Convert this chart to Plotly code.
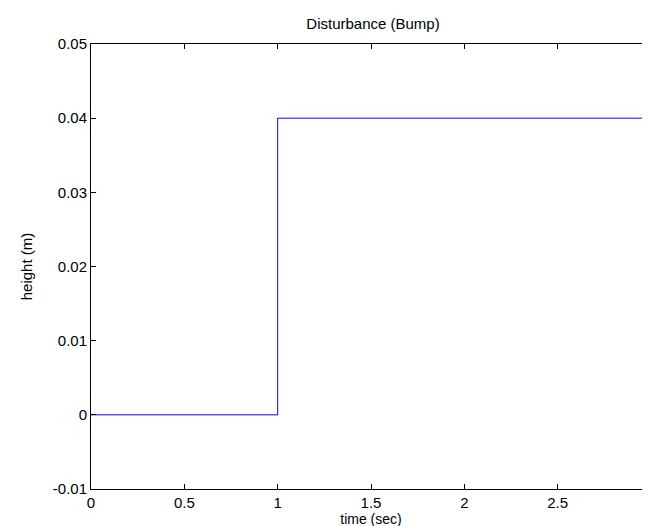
import plotly.graph_objects as go

time_sec = [0, 1, 3]
height_m = [0.0, 0.04, 0.04]
x_ticks = [0, 0.5, 1, 1.5, 2, 2.5, 3]
x_tick_labels = ["0", "0.5", "1", "1.5", "2", "2.5", "3"]
y_ticks = [-0.01, 0, 0.01, 0.02, 0.03, 0.04, 0.05]
y_tick_labels = ["-0.01", "0", "0.01", "0.02", "0.03", "0.04", "0.05"]

fig = go.Figure()
fig.add_trace(go.Scatter(x=time_sec, y=height_m, mode="lines",
                         line=dict(color="rgb(0,0,255)", width=1, shape="hv"),
                         showlegend=False, cliponaxis=False))

font = "Liberation Sans, Arial, Helvetica, sans-serif"
fs = 15
axis_common = dict(showgrid=False, zeroline=False, showline=True, linecolor="black",
                   linewidth=1, mirror="ticks", ticks="inside", ticklen=5,
                   tickcolor="black", ticklabeloverflow="allow",
                   tickfont=dict(family=font, size=fs, color="black"))

fig.update_layout(
    width=650, height=526,
    margin=dict(l=83, r=3, t=36, b=45),
    paper_bgcolor="white", plot_bgcolor="white",
    title=dict(text="Disturbance (Bump)", x=(83 + 647) / 2 / 650, xanchor="center",
               y=1 - 16 / 526, yanchor="middle",
               font=dict(family=font, size=fs, color="black")),
    xaxis=dict(range=[0, 3], tickvals=x_ticks, ticktext=x_tick_labels,
               title=dict(text="time (sec)", font=dict(family=font, size=14, color="black"),
                          standoff=0),
               **axis_common),
    yaxis=dict(range=[-0.01, 0.05], tickvals=y_ticks, ticktext=y_tick_labels,
               title=dict(text="height (m)", font=dict(family=font, size=fs, color="black"),
                          standoff=16),
               **axis_common),
)

fig.write_html("out.html")
